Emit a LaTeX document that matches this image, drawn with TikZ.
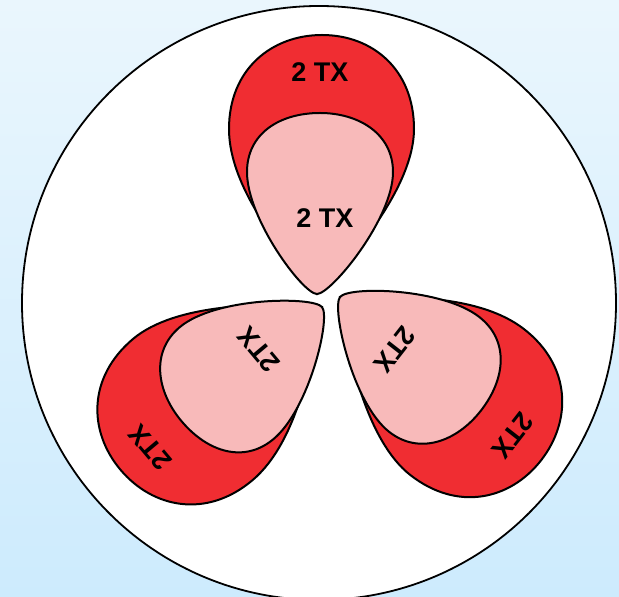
\documentclass[tikz,border=0pt]{standalone}
\usepackage{fontspec}
\setmainfont{Liberation Sans}
\usepackage{xcolor}
\usepackage{tikz}
\definecolor{skytop}{RGB}{234,246,253}
\definecolor{skybot}{RGB}{205,235,253}
\definecolor{lobedark}{RGB}{240,45,50}
\definecolor{lobelight}{RGB}{248,186,186}

\begin{document}
\begin{tikzpicture}[x=1pt, y=1pt,
    outerlobe/.style={draw=black, line width=2pt, fill=lobedark},
    innerlobe/.style={draw=black, line width=2pt, fill=lobelight},
    txlabel/.style={font=\fontsize{27}{30}\selectfont\bfseries, inner sep=0pt}]
  \useasboundingbox (0,0) rectangle (619,597);
  \shade[top color=skytop, bottom color=skybot] (0,0) rectangle (619,597);
  \draw[line width=1.8pt, fill=white] (319,294) circle[radius=297];
  % three petals, each turned round its tip
  \foreach \px/\py/\ang/\txt [count=\i] in {
      317/303/0/{2 TX},
      322/290/130/{2TX},
      340/300/-128/{2TX}} {
    \begin{scope}[shift={(\px,\py)}, rotate=\ang]
      \draw[outerlobe] (0,0) .. controls (-32,40) and (-88,105) .. (-88,165)
        .. controls (-88,225) and (-45,259) .. (5,259)
        .. controls (55,259) and (97,225) .. (97,165)
        .. controls (97,110) and (40,40) .. (0,0) -- cycle;
      \draw[innerlobe] (0,0) .. controls (-14,0) and (-70,75) .. (-70,122)
        .. controls (-70,160) and (-38,181) .. (3,181)
        .. controls (42,181) and (76,160) .. (76,122)
        .. controls (76,75) and (14,0) .. (0,0) -- cycle;
      \node[txlabel, rotate=\ang] (far\i) at (3,222) {\txt};
      \node[txlabel, rotate=\ang] (near\i) at (8,76) {\txt};
    \end{scope}
  }
\end{tikzpicture}
\end{document}
